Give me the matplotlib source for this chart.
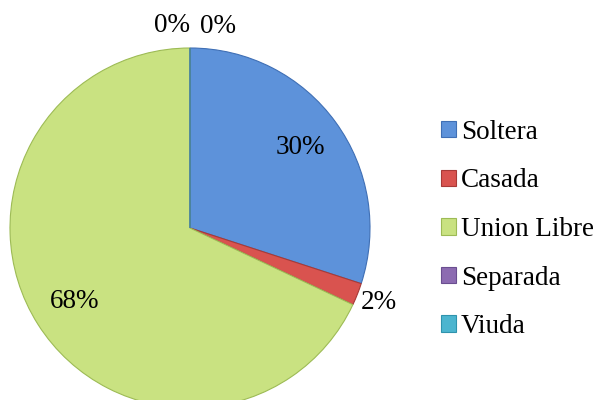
import numpy as np
import matplotlib
matplotlib.use("Agg")
import matplotlib.pyplot as plt
from matplotlib.patches import Patch

# Estado civil
categorias = ["Soltera", "Casada", "Union Libre", "Separada", "Viuda"]
porcentajes = [30, 2, 68, 0, 0]
etiquetas = ["30%", "2%", "68%", "0%", "0%"]

COLORES = ["#5D92DA", "#D9534F", "#C9E281", "#8C6BB1", "#4CB5CF"]
BORDES = ["#3F6FB5", "#A83A37", "#9DBB55", "#6A4E90", "#2F93AD"]
FONT = "Liberation Serif"
FS = 19.5

fig = plt.figure(figsize=(5.98, 4.0), dpi=100)
ax = fig.add_axes([0, 0, 1, 1])

cx, cy, R = 190, 172, 180
wedges, _ = ax.pie(porcentajes, colors=COLORES, startangle=90, counterclock=False,
                   radius=R, center=(cx, cy),
                   wedgeprops=dict(linewidth=0.8))
for w, e in zip(wedges, BORDES):
    w.set_edgecolor(e)

ax.set_xlim(0, 598)
ax.set_ylim(0, 400)
ax.set_aspect("equal")
ax.axis("off")

# étiquettes : dedans pour les grosses parts, dehors pour les petites
ceros = 0
for w, v, t in zip(wedges, porcentajes, etiquetas):
    ang = np.deg2rad((w.theta1 + w.theta2) / 2)
    if v >= 10:
        r = 0.76 * R
    else:
        r = 1.13 * R
        if v == 0:
            ang += np.deg2rad(5 if ceros == 0 else -8)
            ceros += 1
    ax.text(cx + r * np.cos(ang), cy + r * np.sin(ang), t, ha="center", va="center",
            fontsize=FS, family=FONT, color="black")

handles = [Patch(facecolor=c, edgecolor=e, linewidth=0.8) for c, e in zip(COLORES, BORDES)]
fig.legend(handles, categorias, loc="upper left", bbox_to_anchor=(430 / 598, 1 - 109 / 400),
           frameon=False, prop=dict(family=FONT, size=FS), handlelength=0.55,
           handleheight=0.55, handletextpad=0.2, labelspacing=0.87, borderaxespad=0)

fig.savefig("out.png", dpi=100, facecolor="white")
